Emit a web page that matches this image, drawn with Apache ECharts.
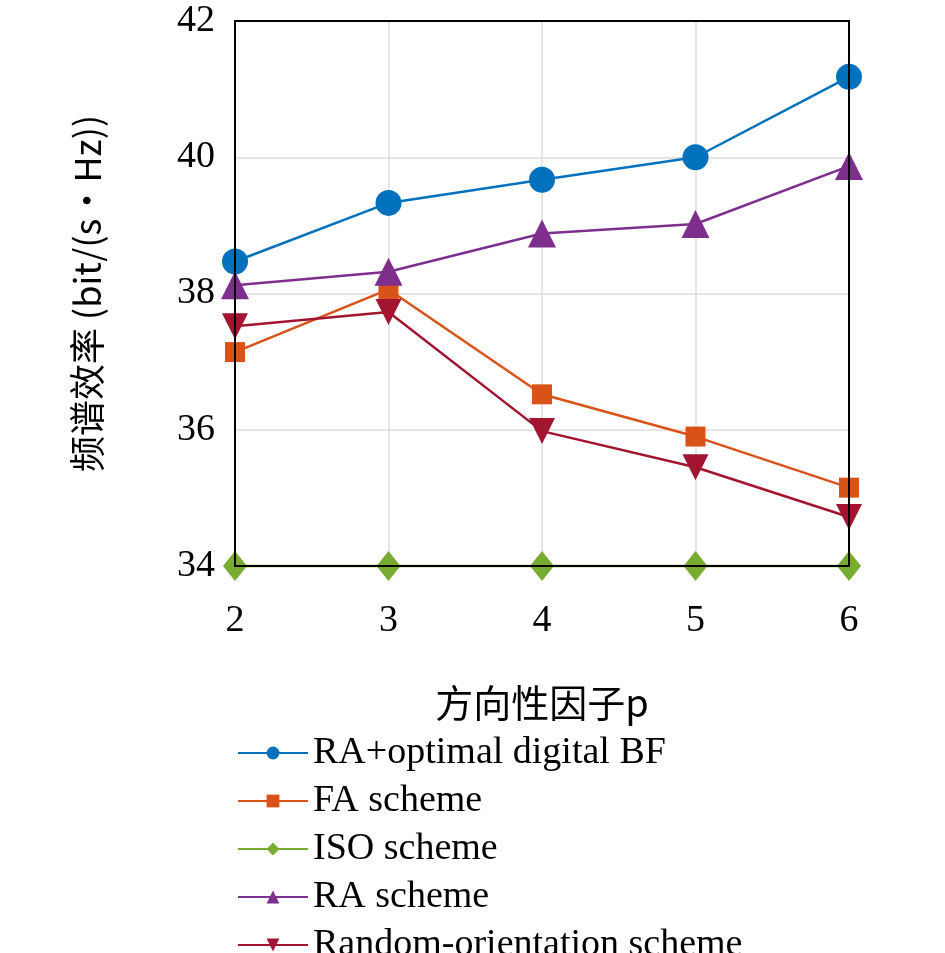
<html><head><meta charset="utf-8">
<script src="https://cdn.jsdelivr.net/npm/echarts@6/dist/echarts.min.js"></script>
<style>html,body{margin:0;background:#fff}#c{width:945px;height:953px}</style></head>
<body><div id="c"></div><script>
const categories=['2','3','4','5','6'];
const raOpt=[38.47,39.33,39.67,40.0,41.18];
const fa=[37.14,38.06,36.52,35.9,35.15];
const iso=[34,34,34,34,34];
const ra=[38.12,38.32,38.88,39.02,39.87];
const rnd=[37.52,37.73,35.98,35.45,34.72];
const names=['RA+optimal digital BF','FA scheme','ISO scheme','RA scheme','Random-orientation scheme'];
const F='"Liberation Serif","DejaVu Serif",serif';
const mk=(n,d,c,s,sz)=>({name:n,type:'line',data:d,symbol:s,symbolSize:sz,clip:false,itemStyle:{color:c},lineStyle:{color:c,width:2.5},z:3});
const ch=echarts.init(document.getElementById('c'));
ch.setOption({animation:false,
grid:{left:235,right:96,top:21,bottom:387},
xAxis:{type:'category',data:categories,boundaryGap:false,name:'方向性因子p',nameLocation:'middle',nameGap:118,
 nameTextStyle:{fontFamily:'"Noto Sans CJK SC",'+F,fontSize:38,color:'#000'},
 axisLine:{lineStyle:{color:'#000',width:2}},axisTick:{show:false},
 axisLabel:{fontFamily:F,fontSize:38,color:'#000',margin:36},
 splitLine:{show:true,lineStyle:{color:'#ddd',width:1.5}}},
yAxis:{type:'value',min:34,max:42,interval:2,name:'频谱效率 (bit/(s·Hz))',nameLocation:'middle',nameGap:130,
 nameTextStyle:{fontFamily:'"Noto Sans CJK SC",'+F,fontSize:36,color:'#000'},
 axisLine:{show:true,lineStyle:{color:'#000',width:2}},axisTick:{show:false},
 axisLabel:{fontFamily:F,fontSize:38,color:'#000',margin:20},
 splitLine:{show:true,lineStyle:{color:'#ddd',width:1.5}}},
legend:{orient:'vertical',left:232,top:729,height:230,itemGap:10,itemWidth:70,itemHeight:16,
 textStyle:{fontFamily:F,fontSize:38,color:'#000'},data:names},
graphic:[{type:'rect',shape:{x:235,y:21,width:614,height:545},style:{fill:'none',stroke:'#000',lineWidth:2},z:10}],
series:[mk(names[0],raOpt,'#0072BD','circle',26),mk(names[1],fa,'#D95319','rect',20),
 mk(names[2],iso,'#77AC30','diamond',[24,30]),mk(names[3],ra,'#7E2F8E','triangle',28),
 mk(names[4],rnd,'#A2142F','path://M0,0L10,0L5,9Z',26)]
});
</script></body></html>
